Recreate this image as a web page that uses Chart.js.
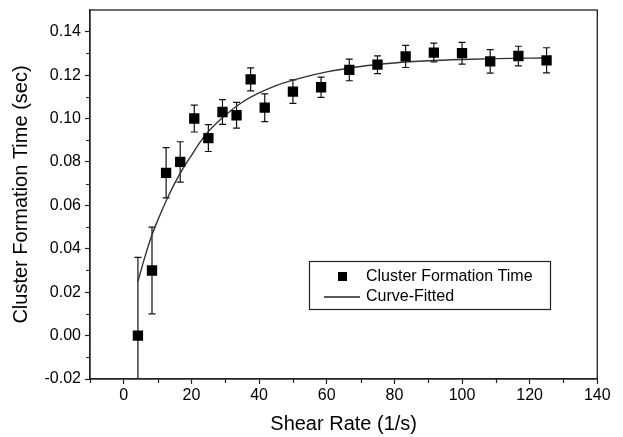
<!DOCTYPE html>
<html>
<head>
<meta charset="utf-8">
<script src="https://cdn.jsdelivr.net/npm/chart.js@4"></script>
<style>
  html, body { margin: 0; padding: 0; background: #fff; }
  #wrap { width: 623px; height: 437px; }
</style>
</head>
<body>
<div id="wrap"><canvas id="c" width="623" height="437"></canvas></div>
<script>
// ---- data ----
const shearRate     = [4.17, 8.33, 12.5, 16.67, 20.83, 25, 29.17, 33.33, 37.5, 41.67, 50, 58.33, 66.67, 75, 83.33, 91.67, 100, 108.33, 116.67, 125];
const formationTime = [0.000, 0.030, 0.075, 0.080, 0.100, 0.091, 0.103, 0.1015, 0.118, 0.105, 0.1124, 0.1144, 0.1224, 0.1248, 0.1286, 0.1304, 0.1301, 0.1263, 0.1288, 0.1268];
const timeError     = [0.036, 0.020, 0.0116, 0.0093, 0.0062, 0.0062, 0.0057, 0.0059, 0.0053, 0.0064, 0.0054, 0.0047, 0.0050, 0.0041, 0.0051, 0.0043, 0.0050, 0.0054, 0.0045, 0.0058];

const curveX = [4.17, 6, 8, 10, 12.5, 15, 17.5, 20, 22.5, 25, 30, 35, 40, 45, 50, 60, 70, 80, 90, 100, 110, 125];
const curveY = [0.025, 0.035, 0.045, 0.053, 0.062, 0.070, 0.077, 0.083, 0.089, 0.094, 0.1015, 0.1075, 0.1118, 0.1152, 0.1177, 0.1215, 0.1240, 0.1256, 0.1266, 0.1272, 0.1276, 0.1279];

const xTicks = [0, 20, 40, 60, 80, 100, 120, 140];
const xMinorTicks = [-10, 10, 30, 50, 70, 90, 110, 130];
const yTicks = [-0.02, 0.00, 0.02, 0.04, 0.06, 0.08, 0.10, 0.12, 0.14];
const yMinorTicks = [-0.01, 0.01, 0.03, 0.05, 0.07, 0.09, 0.11, 0.13];

const seriesLabel = 'Cluster Formation Time';
const curveLabel = 'Curve-Fitted';
const xTitle = 'Shear Rate (1/s)';
const yTitle = 'Cluster Formation Time (sec)';

// ---- build datasets ----
const pointData = shearRate.map((x, i) => ({ x: x, y: formationTime[i] }));
const curveData = curveX.map((x, i) => ({ x: x, y: curveY[i] }));

const FONT = "'Liberation Sans', Arial, sans-serif";

const errorBarPlugin = {
  id: 'errorBars',
  beforeDatasetsDraw(chart) {
    const { ctx, chartArea, scales } = chart;
    const xs = scales.x, ys = scales.y;
    ctx.save();
    ctx.beginPath();
    ctx.rect(chartArea.left, chartArea.top, chartArea.right - chartArea.left, chartArea.bottom - chartArea.top);
    ctx.clip();
    ctx.strokeStyle = '#111';
    ctx.lineWidth = 1.2;
    const cap = 3.5;
    shearRate.forEach((x, i) => {
      const px = xs.getPixelForValue(x);
      const top = ys.getPixelForValue(formationTime[i] + timeError[i]);
      const bot = ys.getPixelForValue(formationTime[i] - timeError[i]);
      ctx.beginPath();
      ctx.moveTo(px, top); ctx.lineTo(px, bot);
      ctx.moveTo(px - cap, top); ctx.lineTo(px + cap, top);
      ctx.moveTo(px - cap, bot); ctx.lineTo(px + cap, bot);
      ctx.stroke();
    });
    ctx.restore();
  }
};

const framePlugin = {
  id: 'frame',
  afterDraw(chart) {
    const { ctx, chartArea, scales } = chart;
    const xs = scales.x, ys = scales.y;
    ctx.save();
    ctx.strokeStyle = '#222';
    ctx.lineWidth = 1.3;
    ctx.strokeRect(chartArea.left, chartArea.top, chartArea.right - chartArea.left, chartArea.bottom - chartArea.top);
    // minor ticks
    ctx.lineWidth = 1.2;
    ctx.beginPath();
    xMinorTicks.forEach(v => {
      const px = Math.round(xs.getPixelForValue(v)) + 0.5;
      ctx.moveTo(px, chartArea.bottom); ctx.lineTo(px, chartArea.bottom + 4);
    });
    yMinorTicks.forEach(v => {
      const py = Math.round(ys.getPixelForValue(v)) + 0.5;
      ctx.moveTo(chartArea.left, py); ctx.lineTo(chartArea.left - 4, py);
    });
    ctx.stroke();

    // legend
    const lx = 309, ly = 261, lw = 241, lh = 48;
    ctx.fillStyle = '#fff';
    ctx.fillRect(lx, ly, lw, lh);
    ctx.strokeStyle = '#222';
    ctx.lineWidth = 1.2;
    ctx.strokeRect(lx + 0.5, ly + 0.5, lw, lh);
    ctx.fillStyle = '#000';
    ctx.fillRect(338, 272, 9, 9);
    ctx.strokeStyle = '#222';
    ctx.lineWidth = 1.3;
    ctx.beginPath();
    ctx.moveTo(324, 297); ctx.lineTo(360, 297);
    ctx.stroke();
    ctx.font = '16px ' + FONT;
    ctx.textBaseline = 'middle';
    ctx.textAlign = 'left';
    ctx.fillStyle = '#000';
    ctx.fillText(chart.data.datasets[0].label, 366, 277);
    ctx.fillText(chart.data.datasets[1].label, 366, 297);
    ctx.restore();
  }
};

new Chart(document.getElementById('c'), {
  type: 'scatter',
  data: {
    datasets: [
      {
        label: seriesLabel,
        data: pointData,
        pointStyle: 'rect',
        pointRadius: 7.3,
        pointHoverRadius: 7.3,
        backgroundColor: '#000',
        borderColor: '#000',
        borderWidth: 0,
        showLine: false,
        order: 0
      },
      {
        label: curveLabel,
        data: curveData,
        showLine: true,
        pointRadius: 0,
        borderColor: '#333',
        borderWidth: 1.4,
        cubicInterpolationMode: 'monotone',
        fill: false,
        order: 1
      }
    ]
  },
  options: {
    responsive: false,
    animation: false,
    devicePixelRatio: 1,
    layout: { padding: { left: 0, top: 10, right: 25.7, bottom: 0 } },
    plugins: {
      legend: { display: false },
      tooltip: { enabled: false }
    },
    scales: {
      x: {
        type: 'linear',
        min: -10,
        max: 140,
        afterBuildTicks: (s) => { s.ticks = xTicks.map(v => ({ value: v })); },
        afterFit: (s) => { s.height = 58; s.paddingLeft = 0; s.paddingRight = 0; },
        ticks: {
          color: '#000',
          font: { family: FONT, size: 16 },
          padding: 2,
          maxRotation: 0,
          autoSkip: false
        },
        grid: { display: true, drawOnChartArea: false, drawTicks: true, tickLength: 5, tickColor: '#222', tickWidth: 1.2 },
        border: { display: true, color: '#222', width: 1.3 },
        title: {
          display: true,
          text: xTitle,
          color: '#000',
          font: { family: FONT, size: 20 },
          padding: { top: 0, bottom: 1 }
        }
      },
      y: {
        type: 'linear',
        min: -0.02,
        max: 0.15,
        afterBuildTicks: (s) => { s.ticks = yTicks.map(v => ({ value: v })); },
        afterFit: (s) => { s.width = 90; s.paddingTop = 0; s.paddingBottom = 0; },
        ticks: {
          color: '#000',
          font: { family: FONT, size: 16 },
          padding: 4,
          autoSkip: false,
          callback: (v) => Number(v).toFixed(2)
        },
        grid: { display: true, drawOnChartArea: false, drawTicks: true, tickLength: 5, tickColor: '#222', tickWidth: 1.2 },
        border: { display: true, color: '#222', width: 1.3 },
        title: {
          display: true,
          text: yTitle,
          color: '#000',
          font: { family: FONT, size: 20 },
          padding: { top: 9, bottom: 0 }
        }
      }
    }
  },
  plugins: [errorBarPlugin, framePlugin]
});
</script>
</body>
</html>
